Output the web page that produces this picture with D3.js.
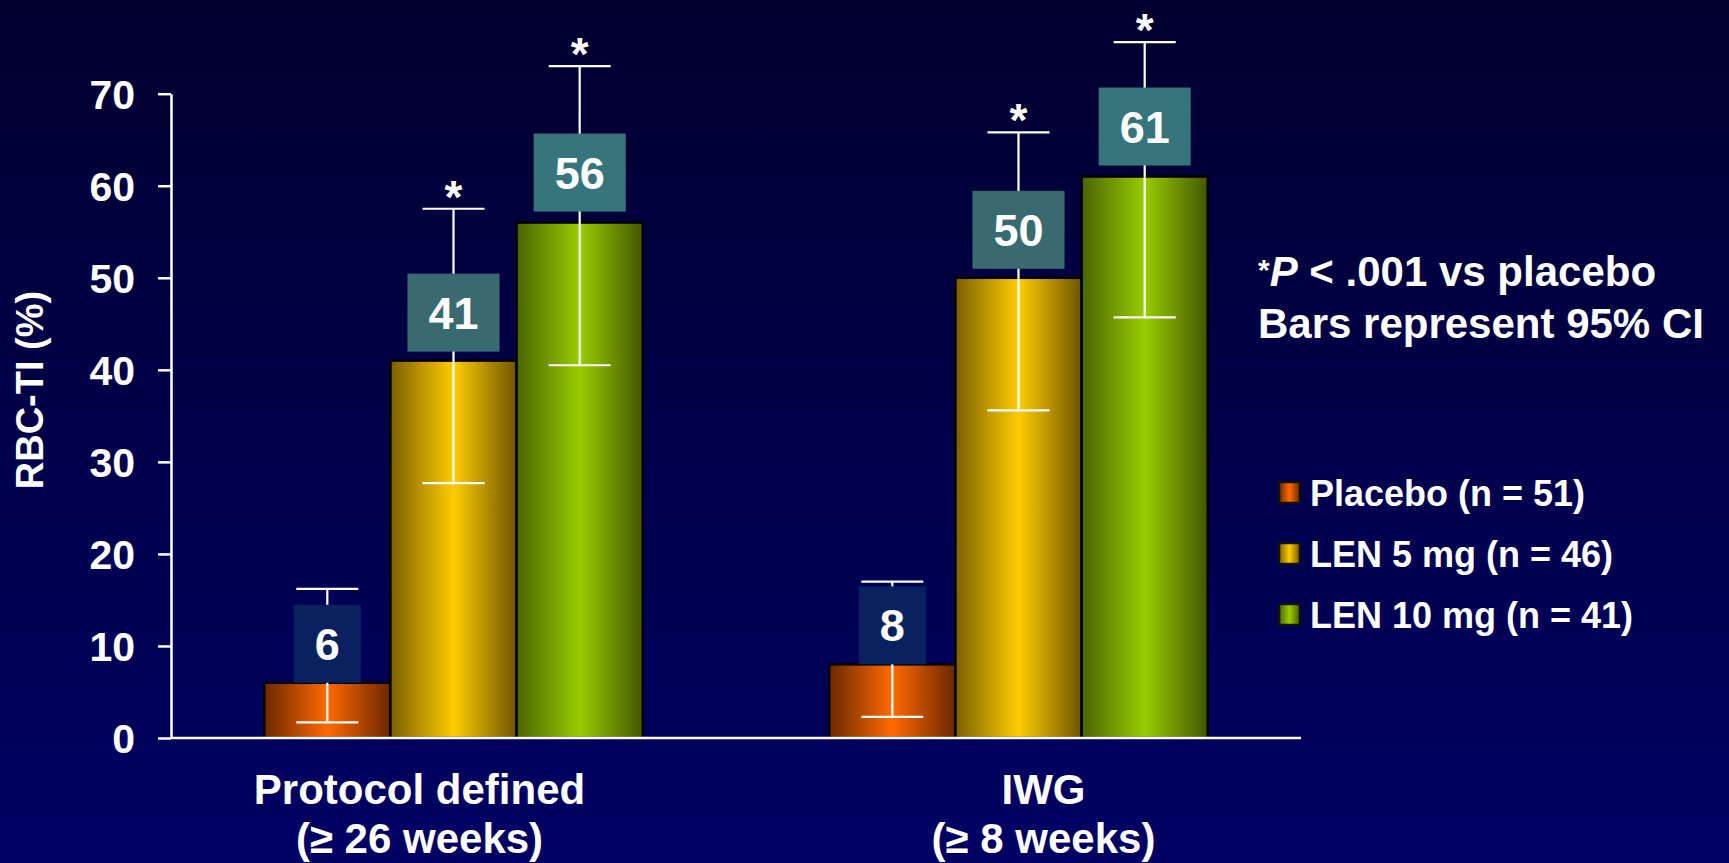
<!DOCTYPE html>
<html>
<head>
<meta charset="utf-8">
<script src="https://cdn.jsdelivr.net/npm/d3@7"></script>
<style>
  html, body { margin: 0; padding: 0; background: #000044; overflow: hidden; }
  svg { display: block; }
  text { font-family: "Liberation Sans", Arial, sans-serif; fill: #ffffff; }
</style>
</head>
<body>
<svg id="chart" width="1729" height="863"></svg>
<script>
// RBC transfusion independence by definition and treatment arm
const categories = ["Protocol defined", "IWG"];
const categorySubtitles = ["(\u2265 26 weeks)", "(\u2265 8 weeks)"];
const seriesNames = ["Placebo", "LEN 5 mg", "LEN 10 mg"];
const seriesN = [51, 46, 41];

const placeboValues = [6, 8];
const len5Values = [41, 50];
const len10Values = [56, 61];

const placeboCiLow = [1.7, 2.3];
const placeboCiHigh = [16.2, 17.0];
const len5CiLow = [27.7, 35.6];
const len5CiHigh = [57.5, 65.8];
const len10CiLow = [40.5, 45.7];
const len10CiHigh = [73.0, 75.6];

const placeboSignificant = [false, false];
const len5Significant = [true, true];
const len10Significant = [true, true];

const yTicks = [0, 10, 20, 30, 40, 50, 60, 70];
const yTitle = "RBC-TI (%)";
const noteLine2 = "Bars represent 95% CI";

// per-series colours: bar edge / centre, value-box fill
const seriesStyle = [
  { edge: "#6a2800", mid: "#ff6a00", edgeR: "#6a2600", box: "#0a2160", gap: 0 },
  { edge: "#7a5f00", mid: "#ffcc00", edgeR: "#6e5500", box: "#396a70", gap: 9 },
  { edge: "#496400", mid: "#99cc00", edgeR: "#425800", box: "#36757b", gap: 11 }
];

const seriesValues = [placeboValues, len5Values, len10Values];
const seriesCiLow = [placeboCiLow, len5CiLow, len10CiLow];
const seriesCiHigh = [placeboCiHigh, len5CiHigh, len10CiHigh];
const seriesSig = [placeboSignificant, len5Significant, len10Significant];

const rows = [];
categories.forEach((c, ci) => {
  seriesNames.forEach((s, si) => {
    rows.push({
      category: c, series: s, si,
      value: seriesValues[si][ci],
      lo: seriesCiLow[si][ci],
      hi: seriesCiHigh[si][ci],
      sig: seriesSig[si][ci]
    });
  });
});

const svg = d3.select("#chart");
const W = 1729, H = 863;
const defs = svg.append("defs");

// background: dark navy, lighter towards the bottom
const bg = defs.append("linearGradient").attr("id", "bg")
  .attr("x1", 0).attr("y1", 0).attr("x2", 0).attr("y2", 1);
bg.append("stop").attr("offset", 0).attr("stop-color", "#00002f");
bg.append("stop").attr("offset", 1).attr("stop-color", "#000064");
svg.append("rect").attr("width", W).attr("height", H).attr("fill", "url(#bg)");

seriesStyle.forEach((st, i) => {
  const g = defs.append("linearGradient").attr("id", "bar" + i)
    .attr("x1", 0).attr("y1", 0).attr("x2", 1).attr("y2", 0);
  g.append("stop").attr("offset", 0).attr("stop-color", st.edge);
  g.append("stop").attr("offset", 0.5).attr("stop-color", st.mid);
  g.append("stop").attr("offset", 1).attr("stop-color", st.edgeR);
});

const plotLeft = 171, plotRight = 1301, plotBottom = 738, plotTop = 93.7;

const x0 = d3.scaleBand().domain(categories).range([plotLeft, plotRight])
  .paddingInner(0.33).paddingOuter(0.165);
const x1 = d3.scaleBand().domain(seriesNames).range([0, x0.bandwidth()]).padding(0);
const y = d3.scaleLinear().domain([0, 70]).range([plotBottom, plotTop]);

// y axis
const yAxis = svg.append("g").attr("transform", `translate(${plotLeft},0)`)
  .call(d3.axisLeft(y).tickValues(yTicks).tickSize(13).tickSizeOuter(0).tickPadding(23));
yAxis.select(".domain").attr("stroke", "#ffffff").attr("stroke-width", 2.5);
yAxis.selectAll(".tick line").attr("stroke", "#ffffff").attr("stroke-width", 2.5);
yAxis.selectAll(".tick text")
  .attr("fill", "#ffffff").attr("font-size", 41).attr("font-weight", "bold")
  .attr("font-family", "'Liberation Sans', Arial, sans-serif")
  .attr("dy", "0.36em");

svg.append("text")
  .attr("transform", `translate(43,390) rotate(-90)`)
  .attr("text-anchor", "middle")
  .attr("font-size", 38).attr("font-weight", "bold")
  .text(yTitle);

// bars
const groups = svg.append("g").selectAll("g").data(categories).join("g")
  .attr("transform", d => `translate(${x0(d)},0)`);

groups.selectAll("rect.bar")
  .data(c => rows.filter(r => r.category === c))
  .join("rect").attr("class", "bar")
  .attr("x", d => x1(d.series))
  .attr("y", d => y(d.value))
  .attr("width", x1.bandwidth())
  .attr("height", d => y(0) - y(d.value))
  .attr("fill", d => `url(#bar${d.si})`)
  .attr("stroke", "#000000").attr("stroke-width", 2.5);

// x axis baseline
svg.append("line")
  .attr("x1", plotLeft).attr("x2", plotRight)
  .attr("y1", plotBottom).attr("y2", plotBottom)
  .attr("stroke", "#ffffff").attr("stroke-width", 2.5);

// 95% CI error bars
const capHalf = 31;
const eb = groups.selectAll("g.err")
  .data(c => rows.filter(r => r.category === c))
  .join("g").attr("class", "err")
  .attr("transform", d => `translate(${x1(d.series) + x1.bandwidth() / 2},0)`);
eb.append("line").attr("x1", 0).attr("x2", 0)
  .attr("y1", d => y(d.lo)).attr("y2", d => y(d.hi))
  .attr("stroke", "#ffffff").attr("stroke-width", 2.2);
eb.append("line").attr("x1", -capHalf).attr("x2", capHalf)
  .attr("y1", d => y(d.hi)).attr("y2", d => y(d.hi))
  .attr("stroke", "#ffffff").attr("stroke-width", 2.2);
eb.append("line").attr("x1", -capHalf).attr("x2", capHalf)
  .attr("y1", d => y(d.lo)).attr("y2", d => y(d.lo))
  .attr("stroke", "#ffffff").attr("stroke-width", 2.2);

// significance markers
eb.filter(d => d.sig).append("text")
  .attr("x", 0).attr("y", d => y(d.hi) + 4)
  .attr("text-anchor", "middle")
  .attr("font-size", 46).attr("font-weight", "bold")
  .text("*");

// value boxes
const boxH = 78;
eb.each(function (d) {
  const g = d3.select(this);
  const st = seriesStyle[d.si];
  const t = g.append("text")
    .attr("text-anchor", "middle")
    .attr("font-size", 45).attr("font-weight", "bold")
    .text(d.value);
  const w = t.node().getComputedTextLength() + 42;
  const bottom = y(d.value) - st.gap;
  g.insert("rect", "text")
    .attr("x", -w / 2).attr("y", bottom - boxH)
    .attr("width", w).attr("height", boxH)
    .attr("fill", st.box);
  t.attr("x", 0).attr("y", bottom - boxH / 2 + 16);
});

// category labels
const labelShift = [-34, 25];
const catLabels = svg.append("g").selectAll("text").data(categories).join("text")
  .attr("text-anchor", "middle")
  .attr("font-size", 42).attr("font-weight", "bold")
  .attr("transform", (d, i) => `translate(${x0(d) + x0.bandwidth() / 2 + labelShift[i]},0)`);
catLabels.append("tspan").attr("x", 0).attr("y", 804).text(d => d);
catLabels.append("tspan").attr("x", 0).attr("y", 853).text((d, i) => categorySubtitles[i]);

// notes
const note1 = svg.append("text").attr("x", 1258).attr("y", 286)
  .attr("font-size", 42).attr("font-weight", "bold");
note1.append("tspan").attr("font-size", 30).attr("dy", -6).text("*");
note1.append("tspan").attr("font-style", "italic").attr("dy", 6).text("P");
note1.append("tspan").text(" < .001 vs placebo");
svg.append("text").attr("x", 1258).attr("y", 338)
  .attr("font-size", 42).attr("font-weight", "bold")
  .text(noteLine2);

// legend
const legend = svg.append("g").selectAll("g").data(seriesNames).join("g")
  .attr("transform", (d, i) => `translate(1279,${505 + i * 61})`);
legend.append("rect")
  .attr("x", 0).attr("y", -23).attr("width", 21).attr("height", 21)
  .attr("fill", (d, i) => `url(#bar${i})`)
  .attr("stroke", "#111111").attr("stroke-width", 2.5);
legend.append("text")
  .attr("x", 31).attr("y", 1)
  .attr("font-size", 36).attr("font-weight", "bold")
  .text((d, i) => `${d} (n = ${seriesN[i]})`);
</script>
</body>
</html>
